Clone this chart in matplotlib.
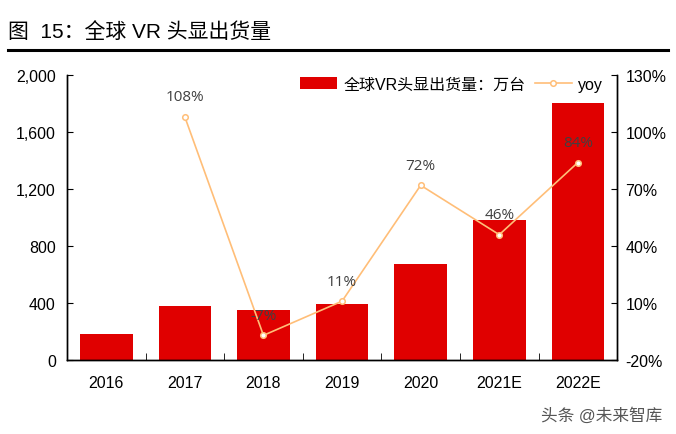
import matplotlib.pyplot as plt
from matplotlib.ticker import FuncFormatter, MultipleLocator

plt.rcParams['font.family'] = ['Liberation Sans', 'Noto Sans CJK SC', 'DejaVu Sans']

years = ['2016', '2017', '2018', '2019', '2020', '2021E', '2022E']
shipments = [182, 379, 351, 393, 674, 982, 1803]
yoy = [None, 108, -7, 11, 72, 46, 84]
yoy_ticks = [-20, 10, 40, 70, 100, 130]

fig = plt.figure(figsize=(6.76, 4.35), dpi=100)
ax = fig.add_axes([0.099, 0.170, 0.814, 0.655])
ax2 = ax.twinx()

x = list(range(len(years)))
bars = ax.bar(x, shipments, width=0.67, color='#E00000', label='全球VR头显出货量：万台', zorder=2)

yx = [i for i, v in zip(x, yoy) if v is not None]
yv = [v for v in yoy if v is not None]
line, = ax2.plot(yx, yv, color='#FFBE78', lw=1.2, marker='o', ms=4,
                 mfc='white', mec='#FFBE78', mew=1.1, label='yoy', zorder=3)
for i, v in zip(yx, yv):
    ax2.annotate(f'{v}%', (i, v), xytext=(0, 9), textcoords='offset points',
                 ha='center', va='bottom', fontsize=11, color='#404040',
                 family=['Open Sans', 'DejaVu Sans'])

ax.set_xlim(-0.5, 6.5)
ax.set_ylim(0, 2000)
ax.yaxis.set_major_locator(MultipleLocator(400))
ax.yaxis.set_major_formatter(FuncFormatter(lambda v, p: f'{int(v):,}'))
ax2.set_ylim(-20, 130)
ax2.set_yticks(yoy_ticks)
ax2.yaxis.set_major_formatter(FuncFormatter(lambda v, p: f'{int(v)}%'))

ax.set_xticks(x)
ax.set_xticklabels(years)
ax.set_xticks([i + 0.5 for i in x[:-1]], minor=True)
ax.tick_params(axis='x', which='major', length=0, pad=11, labelsize=11.5)
ax.tick_params(axis='x', which='minor', direction='in', length=5)
ax.tick_params(axis='y', direction='in', length=4, labelsize=11.5, pad=8)
ax2.tick_params(axis='y', direction='in', length=4, labelsize=11.5, pad=6)

for a in (ax, ax2):
    a.spines['top'].set_visible(False)
    for s in ('left', 'right', 'bottom'):
        a.spines[s].set_linewidth(1.0)

h = [bars, line]
ax2.legend(h, [b.get_label() for b in h], loc='upper right', ncol=2, frameon=False,
           fontsize=11.5, bbox_to_anchor=(1.0, 1.045), handlelength=2.3,
           columnspacing=0.6, handletextpad=0.4)

fig.text(0.012, 0.912, '图  15：全球 VR 头显出货量', fontsize=15, color='black')
fig.add_artist(plt.Line2D([0.012, 0.988], [0.882, 0.882], color='black', lw=2.2))
fig.text(0.8, 0.033, '头条 @未来智库', fontsize=12, color='#555555')

fig.savefig('out.png', dpi=100)
